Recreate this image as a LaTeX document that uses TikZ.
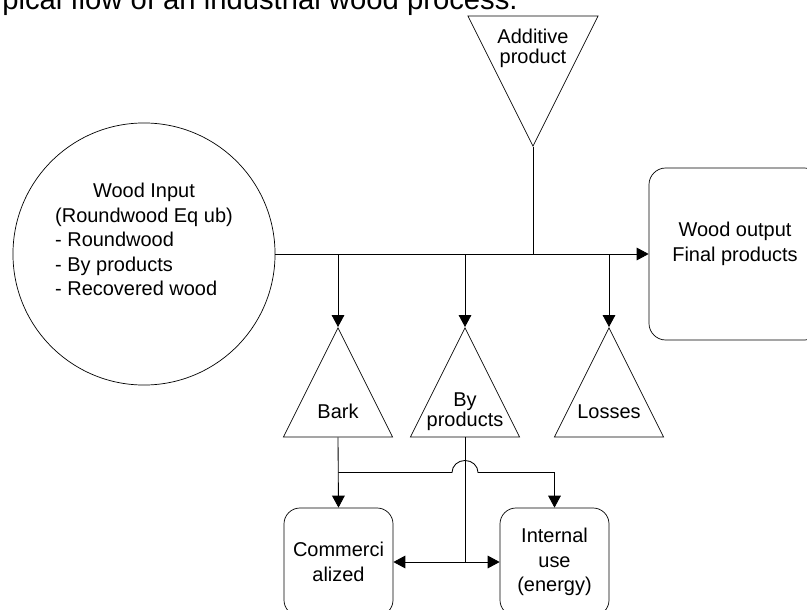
\documentclass[tikz,border=0pt]{standalone}
\usepackage{fontspec}
\setmainfont{Liberation Sans}
\usepackage{tikz}
\usetikzlibrary{arrows.meta,shapes.geometric,calc}
\definecolor{Ink}{HTML}{000000}

\begin{document}
\begin{tikzpicture}[
  x=0.025cm, y=-0.025cm,
  every node/.style={font=\fontsize{14.2}{17.4}\selectfont, text=Ink},
  tri/.style={isosceles triangle, isosceles triangle stretches, shape border rotate=90,
              draw=Ink, line width=0.5pt, minimum width=2.725cm, minimum height=2.725cm,
              inner sep=1pt, anchor=apex},
  tritxt/.style={font=\fontsize{14.2}{14.2}\selectfont, align=center, anchor=base, inner sep=0pt},
  pool/.style={circle, draw=Ink, line width=0.5pt, minimum size=6.55cm, inner sep=0pt},
  sink/.style={rectangle, rounded corners=0.4cm, draw=Ink, line width=0.5pt,
               minimum width=2.725cm, minimum height=2.7cm, align=center, inner sep=0pt},
  arr/.style={-{Triangle[length=8.5pt,width=9pt]}, draw=Ink, line width=0.6pt},
  ln/.style={draw=Ink, line width=0.6pt},
]

%% ─ Frame ────────────────────────────────────────────────────────────────────
\useasboundingbox (0,0) rectangle (807,610);

%% ─ Title (cut at the left edge) ─────────────────────────────────────────────
\node[font=\fontsize{20.8}{25}\selectfont, anchor=base west, inner sep=0pt]
     (title) at (2,10) {pical flow of an industrial wood process.};

%% ─ Input, additive, output ──────────────────────────────────────────────────
\node[pool] (win) at (144,254)
     {\begin{tabular}{@{}l@{}}
      \multicolumn{1}{@{}c@{}}{Wood Input}\\
      (Roundwood Eq ub)\\
      - Roundwood\\
      - By products\\
      - Recovered wood\\
      \mbox{}
      \end{tabular}};
\node[tri, shape border rotate=270, minimum width=3.25cm, minimum height=3.25cm]
     (add) at (533,147) {};
\node[tritxt] (addt) at ($(add.north)+(0,48)$) {Additive\\product};
\node[sink, rounded corners=0.42cm, minimum width=4.3cm, minimum height=4.3cm]
     (wout) at (735,254) {Wood output\\Final products\\ \mbox{}};

%% ─ Side flows ───────────────────────────────────────────────────────────────
\node[tri] (bark) at (338,327) {};
\node[tri] (byp)  at (465,327) {};
\node[tri] (loss) at (609,327) {};
\node[tritxt] (barkt) at ($(bark.south)+(0,-19)$) {Bark};
\node[tritxt] (bypt)  at ($(byp.south)+(0,-11)$)  {By\\products};
\node[tritxt] (losst) at ($(loss.south)+(0,-19)$) {Losses};

%% ─ Uses of the side flows ───────────────────────────────────────────────────
\node[sink] (com) at (338.5,562) {Commerci\\alized};
\node[sink] (int) at (554.5,562) {Internal\\use\\(energy)};

%% ─ Arrows: main line ────────────────────────────────────────────────────────
\draw[arr] (win.east) -- (win.east -| wout.west);
\draw[ln]  (add.apex) -- (add.apex |- win.east);
\draw[arr] (bark.apex |- win.east) -- (bark.apex);
\draw[arr] (byp.apex  |- win.east) -- (byp.apex);
\draw[arr] (loss.apex |- win.east) -- (loss.apex);

%% ─ Arrows: bark ─────────────────────────────────────────────────────────────
\coordinate (split) at ($(bark.south)!0.5!(com.north)$);
\draw[arr] (bark.south) -- (com.north);
\draw[arr] (split) -- ($(split -| byp.south)+(-13,0)$)
           arc[start angle=180, end angle=0, x radius=0.325cm, y radius=0.3cm]
           -| (int.north);  %% hops over the by-products line

%% ─ Arrows: by products ──────────────────────────────────────────────────────
\coordinate (fork) at (byp.south |- com.east);
\draw[ln]  (byp.south) -- (fork);
\draw[arr] (fork) -- (com.east);
\draw[arr] (fork) -- (int.west);

\end{tikzpicture}
\end{document}
